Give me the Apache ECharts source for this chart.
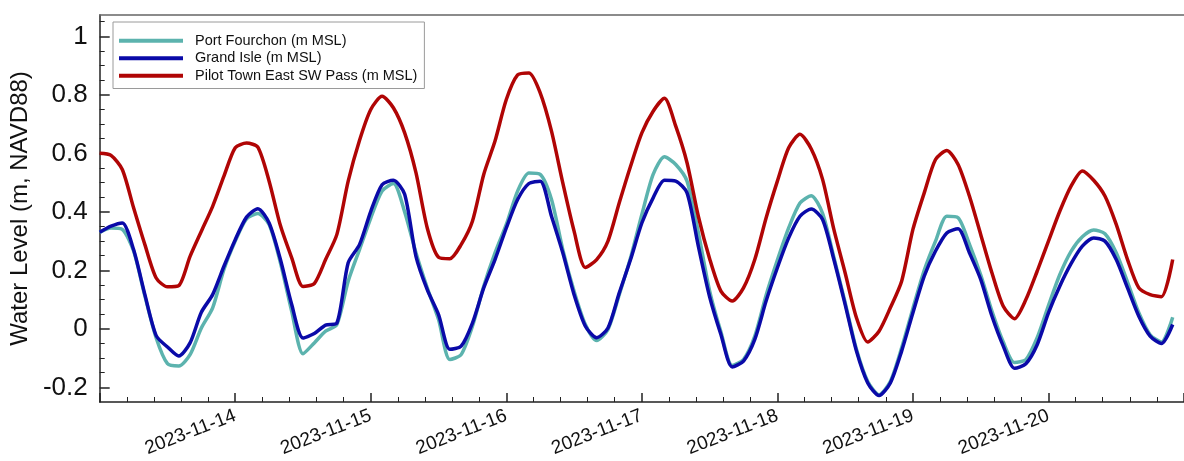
<!DOCTYPE html>
<html>
<head>
<meta charset="utf-8">
<script src="https://cdn.jsdelivr.net/npm/echarts@6/dist/echarts.min.js"></script>
<style>
  html, body { margin: 0; padding: 0; background: #fff; }
  #chart { width: 1184px; height: 461px; }
</style>
</head>
<body>
<div id="chart"></div>
<script>
// hours since 2023-11-13 00:00 (UTC)
var hours = [0, 2, 4, 6, 8, 10, 12, 14, 16, 18, 20, 22, 24, 26, 28, 30, 32, 34, 36, 38,
  40, 42, 44, 46, 48, 50, 52, 54, 56, 58, 60, 62, 64, 66, 68, 70, 72, 74, 76, 78,
  80, 82, 84, 86, 88, 90, 92, 94, 96, 98, 100, 102, 104, 106, 108, 110, 112, 114, 116, 118,
  120, 122, 124, 126, 128, 130, 132, 134, 136, 138, 140, 142, 144, 146, 148, 150, 152, 154, 156, 158,
  160, 162, 164, 166, 168, 170, 172, 174, 176, 178, 180, 182, 184, 186, 188, 190]

var portFourchon = [0.33, 0.345, 0.34, 0.266, 0.112, -0.031, -0.119, -0.127, -0.088, 0.003, 0.072, 0.203, 0.30, 0.376,
  0.394, 0.357, 0.226, 0.06, -0.085, -0.048, -0.008, 0.015, 0.163, 0.271, 0.379, 0.471, 0.497,
  0.40, 0.26, 0.14, 0.032, -0.105, -0.088, 0.009, 0.146, 0.26, 0.357, 0.471, 0.533, 0.528,
  0.442, 0.271, 0.129, 0.015, -0.04, -0.002, 0.117, 0.243, 0.391, 0.528, 0.588, 0.562, 0.505, 0.33,
  0.13, -0.01, -0.125, -0.105, -0.025, 0.115, 0.235, 0.345, 0.43, 0.455, 0.395, 0.245, 0.09, -0.07,
  -0.18, -0.225, -0.18, -0.065, 0.07, 0.2, 0.3, 0.385, 0.38, 0.29, 0.185, 0.06, -0.045,
  -0.115, -0.105, -0.03, 0.08, 0.185, 0.265, 0.315, 0.338, 0.325, 0.26, 0.16, 0.055, -0.02, -0.045, 0.04]

var grandIsle = [0.33, 0.351, 0.362, 0.271, 0.117, -0.023, -0.062, -0.093, -0.048, 0.057, 0.117, 0.214, 0.305, 0.382,
  0.411, 0.362, 0.237, 0.083, -0.031, -0.016, 0.013, 0.02, 0.226, 0.288, 0.402, 0.493, 0.508,
  0.46, 0.248, 0.134, 0.049, -0.07, -0.059, 0.02, 0.14, 0.237, 0.345, 0.442, 0.497, 0.505,
  0.385, 0.26, 0.117, 0.009, -0.03, 0.003, 0.123, 0.237, 0.362, 0.448, 0.508, 0.505, 0.465, 0.283,
  0.11, -0.019, -0.13, -0.11, -0.036, 0.095, 0.209, 0.311, 0.385, 0.41, 0.374, 0.237, 0.083, -0.076,
  -0.185, -0.228, -0.185, -0.076, 0.055, 0.18, 0.266, 0.328, 0.342, 0.26, 0.169, 0.043, -0.059,
  -0.135, -0.119, -0.054, 0.055, 0.146, 0.223, 0.283, 0.311, 0.30, 0.237, 0.14, 0.043, -0.025, -0.05, 0.015]

var pilotTown = [0.60, 0.593, 0.545, 0.414, 0.288, 0.174, 0.144, 0.148, 0.248, 0.334, 0.419, 0.522, 0.619, 0.635,
  0.621, 0.505, 0.353, 0.243, 0.145, 0.155, 0.237, 0.323, 0.505, 0.644, 0.75, 0.795, 0.756,
  0.67, 0.534, 0.345, 0.245, 0.24, 0.288, 0.368, 0.528, 0.642, 0.784, 0.868, 0.875, 0.807,
  0.676, 0.499, 0.334, 0.21, 0.237, 0.30, 0.431, 0.556, 0.67, 0.744, 0.788, 0.693, 0.568, 0.385,
  0.24, 0.129, 0.095, 0.14, 0.237, 0.379, 0.505, 0.619, 0.665, 0.615, 0.511, 0.34, 0.191, 0.038,
  -0.045, -0.008, 0.072, 0.163, 0.34, 0.465, 0.579, 0.61, 0.562, 0.454, 0.323, 0.191, 0.077,
  0.035, 0.10, 0.197, 0.30, 0.402, 0.488, 0.54, 0.508, 0.454, 0.357, 0.237, 0.14, 0.117, 0.11, 0.237]

var seriesNames = ['Port Fourchon (m MSL)', 'Grand Isle (m MSL)', 'Pilot Town East SW Pass (m MSL)']
var yMajorTicks = [-0.2, 0, 0.2, 0.4, 0.6, 0.8, 1]
var yMinorTicks = [-0.15, -0.1, -0.05, 0.05, 0.1, 0.15, 0.25, 0.3, 0.35, 0.45, 0.5, 0.55,
  0.65, 0.7, 0.75, 0.85, 0.9, 0.95, 1.05]

var DAY = 86400000
var t0 = Date.UTC(2023, 10, 13)
var tEnd = Date.UTC(2023, 10, 21)
var font = 'Liberation Sans, Arial, sans-serif'

function pairs(values) {
  return hours.map(function (h, i) {
    return [t0 + h * 3600000, values[i]]
  })
}

var chart = echarts.init(document.getElementById('chart'), null, { renderer: 'canvas' })

var lineSeries = function (name, values, color) {
  return {
    name: name,
    type: 'line',
    data: pairs(values),
    showSymbol: false,
    symbol: 'none',
    smooth: 0.25,
    lineStyle: { width: 3.5, color: color },
    itemStyle: { color: color },
    animation: false
  }
}

chart.setOption({
  animation: false,
  textStyle: { fontFamily: font },
  grid: { left: 98, right: -10, top: 15, bottom: 59 },
  legend: {
    orient: 'vertical',
    left: 113,
    top: 22,
    padding: [10, 7, 4, 6],
    itemGap: 0,
    itemWidth: 64,
    itemHeight: 4,
    icon: 'rect',
    backgroundColor: '#fff',
    borderColor: '#9a9a9a',
    borderWidth: 1,
    borderRadius: 0,
    textStyle: { fontSize: 14.5, color: '#111', lineHeight: 17.5, padding: [0, 0, 0, 7], fontFamily: font },
    data: seriesNames
  },
  xAxis: [{
    type: 'value',
    min: t0,
    max: tEnd,
    interval: DAY,
    axisLine: { onZero: false, lineStyle: { color: '#222', width: 1.5 } },
    axisTick: { inside: true, length: 9, lineStyle: { color: '#222', width: 1.5 } },
    minorTick: { show: true, splitNumber: 5, length: 5, lineStyle: { color: '#222', width: 1 } },
    splitLine: { show: false },
    axisLabel: {
      rotate: 21,
      margin: 13,
      fontSize: 19,
      color: '#111',
      showMinLabel: false,
      showMaxLabel: false,
      formatter: function (v) {
        return new Date(v).toISOString().slice(0, 10)
      }
    }
  }, {
    type: 'value',
    position: 'top',
    min: t0,
    max: tEnd,
    interval: DAY,
    axisLine: { onZero: false, lineStyle: { color: '#666', width: 1.5 } },
    axisTick: { show: false },
    axisLabel: { show: false },
    splitLine: { show: false }
  }],
  yAxis: [{
    type: 'value',
    min: -0.25,
    max: 1.073,
    name: 'Water Level (m, NAVD88)',
    nameLocation: 'middle',
    nameGap: 66,
    nameTextStyle: { fontSize: 24, color: '#111', fontFamily: font },
    axisLine: { show: true, onZero: false, lineStyle: { color: '#222', width: 1.5 } },
    axisTick: { inside: true, length: 10, customValues: yMajorTicks, lineStyle: { color: '#222', width: 1.5 } },
    axisLabel: {
      customValues: yMajorTicks,
      margin: 12,
      fontSize: 26,
      color: '#111',
      formatter: function (v) {
        return String(Math.round(v * 10) / 10)
      }
    },
    splitLine: { show: false }
  }, {
    type: 'value',
    min: -0.25,
    max: 1.073,
    position: 'left',
    offset: 0,
    axisLine: { show: false, onZero: false },
    axisTick: { show: true, inside: true, length: 5, customValues: yMinorTicks, lineStyle: { color: '#222', width: 1 } },
    axisLabel: { show: false },
    splitLine: { show: false }
  }],
  series: [
    lineSeries(seriesNames[0], portFourchon, '#5cb3ae'),
    lineSeries(seriesNames[1], grandIsle, '#0a0aa8'),
    lineSeries(seriesNames[2], pilotTown, '#b00505')
  ]
})
</script>
</body>
</html>
